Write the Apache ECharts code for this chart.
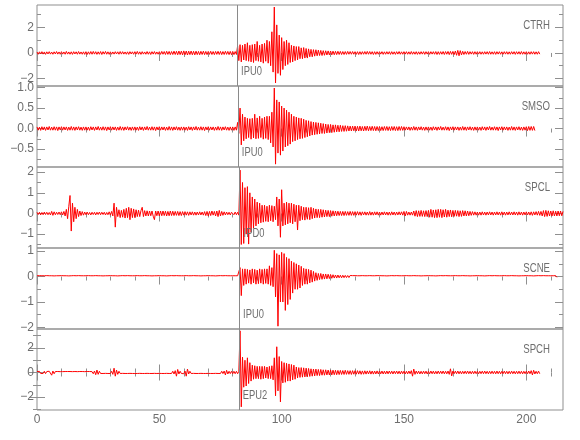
<!DOCTYPE html>
<html><head><meta charset="utf-8">
<script src="https://cdn.jsdelivr.net/npm/echarts@6/dist/echarts.min.js"></script>
<style>html,body{margin:0;padding:0;background:#fff}#c{width:580px;height:440px}</style>
</head><body><div id="c"></div>
<script>
// ---- data ----
// each trace: "Pre" = 0..79.5 s, "Burst" = 80..129.5 s, "Post" = 130 s..end; all at 0.5 s
const stations = ['CTRH', 'SMSO', 'SPCL', 'SCNE', 'SPCH'];
const pickNames = ['IPU0', 'IPU0', 'IPD0', 'IPU0', 'EPU2'];
const pickTimes = [81.8, 82.1, 82.8, 82.6, 82.5];
const xMajorTicks = [0, 50, 100, 150, 200];
const xMinorTicks = [10, 20, 30, 40, 60, 70, 80, 90, 110, 120, 130, 140, 160, 170, 180, 190, 210];
const yMajorTicks = [[-2, 0, 2], [-0.5, 0, 0.5, 1], [-1, 0, 1, 2], [-2, -1, 0, 1], [-2, 0, 2]];
const yMinorTicks = [[-2, -1, 0, 1, 2, 3], [-0.75, -0.5, -0.25, 0, 0.25, 0.5, 0.75, 1], [-1.5, -1, -0.5, 0, 0.5, 1, 1.5, 2], [-2, -1.5, -1, -0.5, 0, 0.5, 1], [-3, -2, -1, 0, 1, 2, 3]];

const ctrhPre = [
0.08,-0.1,0.09,-0.07,0.1,-0.09,0.08,-0.11,0.09,-0.08,0.1,-0.09,0.07,-0.1,0.09,-0.08,0.11,-0.09,0.08,-0.1,
0.1,-0.09,0.08,-0.1,0.12,-0.09,0.08,-0.1,0.09,-0.11,0.1,-0.08,0.09,-0.1,0.11,-0.09,0.08,-0.1,0.09,-0.11,
0.1,-0.12,0.09,-0.1,0.11,-0.1,0.12,-0.09,0.1,-0.11,0.09,-0.1,0.11,-0.12,0.1,-0.09,0.12,-0.1,0.09,-0.11,
0.09,-0.1,0.08,-0.09,0.1,-0.08,0.09,-0.1,0.11,-0.09,0.1,-0.09,0.08,-0.1,0.09,-0.11,0.1,-0.08,0.09,-0.1,
0.1,-0.09,0.12,-0.1,0.09,-0.11,0.1,-0.09,0.08,-0.1,0.11,-0.1,0.09,-0.12,0.1,-0.09,0.11,-0.1,0.08,-0.1,
0.1,-0.11,0.12,-0.1,0.11,-0.12,0.13,-0.11,0.12,-0.13,0.11,-0.12,0.14,-0.12,0.13,-0.14,0.15,-0.13,0.14,-0.15,
0.16,-0.14,0.15,-0.16,0.14,-0.13,0.15,-0.14,0.13,-0.15,0.14,-0.13,0.12,-0.14,0.13,-0.12,0.14,-0.13,0.12,-0.13,
0.12,-0.11,0.13,-0.12,0.11,-0.13,0.12,-0.11,0.13,-0.12,0.12,-0.13,0.11,-0.12,0.13,-0.11,0.12,-0.13,0.12,-0.14];
const ctrhBurst = [
0.12,-0.13,0.11,-0.12, 0.55,-0.6,0.65,-0.7, 0.6,-0.55,0.7,-0.6, 0.8,-0.65,0.6,-0.7,
0.65,-0.75,0.7,-0.6, 0.9,-0.65,0.6,-0.7, 0.7,-0.8,0.75,-0.65, 1.0,-0.8,0.9,-1.0,
1.66,-1.5,3.6,-2.35, 2.2,-1.6,1.4,-1.75, 1.2,-1.3,0.9,-1.0, 1.0,-0.9,0.8,-0.75,
0.6,-0.7,0.55,-0.6, 0.5,-0.55,0.5,-0.45, 0.4,-0.45,0.42,-0.4, 0.35,-0.4,0.32,-0.3,
0.28,-0.3,0.26,-0.25, 0.25,-0.22,0.22,-0.2, 0.2,-0.2,0.18,-0.18, 0.17,-0.16,0.16,-0.15,
0.15,-0.15,0.14,-0.14, 0.13,-0.13,0.13,-0.12, 0.12,-0.12,0.11,-0.12, 0.11,-0.11,0.12,-0.1,
0.11,-0.1,0.11,-0.1];
const ctrhPost = [
0.1,-0.11,0.1,-0.12,0.1,-0.11,0.1,-0.1,0.11,-0.1,0.12,-0.1,0.11,-0.1,0.1,-0.12,0.1,-0.11,0.1,-0.1,
0.1,-0.09,0.1,-0.11,0.09,-0.1,0.1,-0.09,0.1,-0.11,0.1,-0.1,0.09,-0.11,0.1,-0.09,0.11,-0.1,0.09,-0.1,
0.1,-0.09,0.1,-0.1,0.09,-0.1,0.11,-0.1,0.09,-0.1,0.1,-0.11,0.09,-0.1,0.1,-0.09,0.1,-0.11,0.1,-0.09,
0.1,-0.11,0.1,-0.09,0.1,-0.1,0.11,-0.12,0.1,-0.11,0.1,-0.1,0.11,-0.12,0.11,-0.1,0.12,-0.13,0.12,-0.11,
0.12,-0.13,0.15,-0.18,0.2,-0.22,0.18,-0.15,0.13,-0.12,0.11,-0.1,0.12,-0.11,0.1,-0.09,0.1,-0.11,0.1,-0.1,
0.1,-0.09,0.1,-0.1,0.09,-0.1,0.1,-0.09,0.1,-0.1,0.11,-0.1,0.09,-0.1,0.1,-0.11,0.1,-0.09,0.1,-0.1,
0.09,-0.1,0.1,-0.09,0.1,-0.1,0.09,-0.1,0.1,-0.09,0.1,-0.11,0.1,-0.09,0.1,-0.1,0.11,-0.1,0.09,-0.1,
0.1,-0.1,0.09,-0.1,0.1,-0.09,0.1,-0.1,0.09,-0.1,0.1,-0.09];

const smsoPre = [
0.04,-0.04,0.035,-0.045,0.045,-0.035,0.04,-0.045,0.04,-0.035,0.05,-0.04,0.035,-0.04,0.045,-0.04,0.04,-0.05,0.04,-0.035,
0.045,-0.04,0.04,-0.035,0.04,-0.045,0.035,-0.04,0.05,-0.04,0.04,-0.045,0.04,-0.035,0.045,-0.04,0.035,-0.045,0.04,-0.04,
0.04,-0.04,0.035,-0.045,0.045,-0.035,0.04,-0.045,0.04,-0.035,0.05,-0.04,0.035,-0.04,0.045,-0.04,0.04,-0.05,0.04,-0.035,
0.045,-0.04,0.04,-0.035,0.04,-0.045,0.035,-0.04,0.05,-0.04,0.04,-0.045,0.04,-0.035,0.045,-0.04,0.035,-0.045,0.04,-0.04,
0.04,-0.04,0.035,-0.045,0.045,-0.035,0.04,-0.045,0.04,-0.035,0.05,-0.04,0.035,-0.04,0.045,-0.04,0.04,-0.05,0.04,-0.035,
0.045,-0.04,0.04,-0.035,0.04,-0.045,0.035,-0.04,0.05,-0.04,0.04,-0.045,0.04,-0.035,0.045,-0.04,0.035,-0.045,0.04,-0.04,
0.04,-0.04,0.035,-0.045,0.045,-0.035,0.04,-0.045,0.04,-0.035,0.05,-0.04,0.035,-0.04,0.045,-0.04,0.04,-0.05,0.04,-0.035,
0.045,-0.04,0.04,-0.035,0.04,-0.045,0.035,-0.04,0.05,-0.04,0.04,-0.045,0.04,-0.035,0.045,-0.04,0.035,-0.045,0.04,-0.04];
const smsoBurst = [
0.04,-0.045,0.04,-0.04, 0.15,-0.12,0.5,-0.4, 0.35,-0.3,0.28,-0.25, 0.25,-0.22,0.24,-0.26,
0.25,-0.23,0.35,-0.25, 0.26,-0.24,0.3,-0.22, 0.25,-0.26,0.28,-0.24, 0.3,-0.27,0.3,-0.35,
0.4,-0.45,0.99,-0.87, 0.7,-0.6,0.65,-0.65, 0.55,-0.55,0.5,-0.45, 0.45,-0.42,0.4,-0.38,
0.35,-0.32,0.3,-0.3, 0.28,-0.27,0.26,-0.25, 0.25,-0.24,0.23,-0.22, 0.2,-0.2,0.19,-0.18,
0.17,-0.16,0.16,-0.15, 0.15,-0.14,0.14,-0.13, 0.13,-0.12,0.12,-0.12, 0.11,-0.11,0.1,-0.1,
0.1,-0.1,0.09,-0.09, 0.09,-0.08,0.08,-0.08, 0.08,-0.07,0.07,-0.07, 0.07,-0.065,0.065,-0.06,
0.06,-0.06,0.06,-0.055];
const smsoPost = [
0.06,-0.06,0.055,-0.06,0.06,-0.055,0.05,-0.06,0.055,-0.05,0.06,-0.055,0.05,-0.05,0.055,-0.05,0.05,-0.055,0.05,-0.05,
0.05,-0.05,0.045,-0.05,0.05,-0.045,0.05,-0.05,0.045,-0.05,0.05,-0.045,0.05,-0.05,0.045,-0.05,0.05,-0.045,0.05,-0.045,
0.045,-0.04,0.04,-0.035,0.04,-0.045,0.035,-0.04,0.05,-0.04,0.04,-0.045,0.04,-0.035,0.045,-0.04,0.035,-0.045,0.04,-0.04,
0.04,-0.04,0.035,-0.045,0.045,-0.035,0.04,-0.045,0.04,-0.035,0.05,-0.04,0.035,-0.04,0.045,-0.04,0.04,-0.05,0.04,-0.035,
0.045,-0.04,0.04,-0.035,0.04,-0.045,0.035,-0.04,0.05,-0.04,0.04,-0.045,0.04,-0.035,0.045,-0.04,0.035,-0.045,0.04,-0.04,
0.04,-0.04,0.035,-0.045,0.045,-0.035,0.04,-0.045,0.04,-0.035,0.05,-0.04,0.035,-0.04,0.045,-0.04,0.04,-0.05,0.04,-0.035,
0.045,-0.04,0.04,-0.035,0.04,-0.045,0.035,-0.04,0.05,-0.04,0.04,-0.045,0.04,-0.035,0.045,-0.04,0.035,-0.045,0.04,-0.04,
0.045,-0.05,0.05,-0.045,0.05,-0.045,0.05,-0.05];

const spclPre = [
0.06,-0.05,0.06,-0.07,0.05,-0.06,0.07,-0.05,0.06,-0.06,0.05,-0.07,0.1,-0.09,0.08,-0.06,0.06,-0.05,0.07,-0.06,
0.08,-0.07,0.1,-0.12,0.2,-0.25,0.35,0.87,-0.85,0.5,-0.4,0.3,-0.25,0.2,-0.15,0.12,-0.1,0.09,-0.08,0.07,
-0.06,0.07,-0.06,0.05,-0.07,0.06,-0.05,0.06,-0.07,0.06,-0.05,0.07,-0.06,0.06,-0.05,0.06,-0.07,0.05,-0.06,0.08,
-0.08,0.1,-0.12,0.5,-0.66,0.3,-0.15,0.18,-0.2,0.15,-0.18,0.2,-0.22,0.25,-0.2,0.3,-0.3,0.25,-0.2,0.22,
-0.2,0.18,-0.15,0.16,-0.15,0.14,0.3,-0.15,0.14,-0.12,0.13,-0.12,0.12,-0.11,0.12,-0.13,-0.3,0.12,-0.11,0.12,
-0.12,0.12,-0.11,0.12,-0.1,0.11,-0.12,0.1,-0.11,0.12,-0.1,0.11,-0.1,0.1,-0.09,0.1,-0.1,0.09,-0.1,0.09,
-0.08,0.09,-0.08,0.08,-0.09,0.08,-0.07,0.08,-0.08,0.07,-0.08,0.07,-0.07,0.08,-0.07,0.07,-0.08,0.09,-0.1,0.1,
-0.12,0.1,-0.1,0.12,-0.08,0.1,-0.12,0.12,-0.15,0.15,-0.12,0.1,-0.09,0.08,-0.07,0.07,-0.06,0.06,-0.07,0.06];
const spclBurst = [
0.06,-0.06,0.07,-0.06, 0.06,-0.08,2.1,-1.5, 1.5,-1.45,1.25,-1.0, 1.3,-1.48,1.0,-0.9,
0.8,-0.7,0.7,-0.6, 0.55,-0.5,0.5,-0.45, 0.4,-0.42,0.4,-0.38, 0.35,-0.4,0.4,-0.35,
0.38,-0.4,0.35,-0.3, 0.8,-0.6,0.7,-1.15, 1.15,-0.6,0.5,-0.55, 0.55,-0.5,0.5,-0.45,
0.5,-0.5,0.45,-0.4, 0.4,-0.8,0.4,-0.35, 0.35,-0.3,0.3,-0.32, 0.3,-0.28,0.28,-0.3,
0.3,-0.25,0.25,-0.22, 0.22,-0.2,0.2,-0.2, 0.2,-0.18,0.18,-0.17, 0.16,-0.15,0.15,-0.15,
0.14,-0.13,0.13,-0.12, 0.12,-0.11,0.11,-0.1, 0.1,-0.1,0.1,-0.1, 0.1,-0.09,0.09,-0.09,
0.1,-0.09,0.09,-0.09];
const spclPost = [
0.09,-0.08,0.09,-0.08,0.08,-0.09,0.08,-0.07,0.08,-0.08,0.07,-0.08,0.09,-0.08,0.07,-0.08,0.08,-0.07,0.08,-0.08,
0.07,-0.08,0.07,-0.07,0.08,-0.07,0.07,-0.08,0.07,-0.08,0.08,-0.07,0.07,-0.08,0.07,-0.07,0.08,-0.07,0.08,-0.08,
0.1,-0.12,0.1,-0.08,0.07,-0.08,0.07,-0.08,0.12,-0.13,0.14,-0.15,0.13,-0.14,0.15,-0.14,0.13,-0.15,0.14,-0.15,
0.15,-0.18,0.2,-0.18,0.17,-0.2,0.18,-0.2,0.2,-0.18,0.2,-0.2,0.18,-0.17,0.2,-0.18,0.16,-0.15,0.17,-0.16,
0.15,-0.14,0.15,-0.13,0.14,-0.15,0.13,-0.14,0.14,-0.12,0.13,-0.12,0.12,-0.11,0.1,-0.09,0.09,-0.08,0.08,-0.08,
0.07,-0.08,0.07,-0.08,0.08,-0.07,0.07,-0.08,0.07,-0.07,0.08,-0.07,0.07,-0.08,0.07,-0.07,0.08,-0.07,0.07,-0.08,
0.08,-0.07,0.07,-0.08,0.07,-0.07,0.08,-0.07,0.07,-0.07,0.08,-0.07,0.07,-0.08,0.08,-0.07,0.07,-0.08,0.07,-0.07,
0.08,-0.07,0.07,-0.08,0.08,-0.09,0.08,-0.07,0.09,-0.08,0.1,-0.09,0.1,-0.12,0.14,-0.15,0.15,-0.14,0.13,-0.12,
0.12,-0.12,0.13,-0.12,0.11,-0.12,0.12,-0.11,0.12,-0.11,0.1];

const scnePre = [
0.03,-0.03,0.035,-0.03,0.03,-0.035,0.03,-0.03,0.035,-0.03,0.03,-0.035,0.03,-0.03,0.025,-0.03,0.03,-0.035,0.03,-0.03,
0.035,-0.03,0.03,-0.035,0.03,-0.03,0.025,-0.03,0.03,-0.035,0.035,-0.03,0.03,-0.03,0.035,-0.03,0.03,-0.025,0.03,-0.035,
0.03,-0.03,0.035,-0.03,0.03,-0.035,0.03,-0.03,0.035,-0.03,0.03,-0.035,0.03,-0.03,0.025,-0.03,0.03,-0.035,0.03,-0.03,
0.035,-0.03,0.03,-0.035,0.03,-0.03,0.025,-0.03,0.03,-0.035,0.035,-0.03,0.03,-0.03,0.035,-0.03,0.03,-0.025,0.03,-0.035,
0.03,-0.03,0.035,-0.03,0.03,-0.035,0.03,-0.03,0.035,-0.03,0.03,-0.035,0.03,-0.03,0.025,-0.03,0.03,-0.035,0.03,-0.03,
0.035,-0.03,0.03,-0.035,0.03,-0.03,0.025,-0.03,0.03,-0.035,0.035,-0.03,0.03,-0.03,0.035,-0.03,0.03,-0.025,0.03,-0.035,
0.03,-0.03,0.035,-0.03,0.03,-0.035,0.03,-0.03,0.035,-0.03,0.03,-0.035,0.03,-0.03,0.025,-0.03,0.03,-0.035,0.03,-0.03,
0.035,-0.03,0.03,-0.035,0.03,-0.03,0.025,-0.03,0.03,-0.035,0.035,-0.03,0.03,-0.03,0.035,-0.03,0.03,-0.025,0.03,-0.035];
const scneBurst = [
0.03,-0.03,0.03,-0.035, 0.03,-0.03,0.35,-0.75, 0.3,-0.35,0.3,-0.3, 0.28,-0.26,0.26,-0.3,
0.3,-0.25,0.28,-0.3, 0.25,-0.28,0.3,-0.26, 0.28,-0.3,0.3,-0.27, 0.3,-0.3,0.42,-0.35,
0.35,-0.4,1.03,-0.8, 0.9,-1.95,0.85,-1.0, 0.95,-1.0,0.9,-1.33, 0.75,-1.1,0.7,-0.9,
0.6,-0.65,0.55,-0.5, 0.5,-0.5,0.45,-0.45, 0.4,-0.35,0.32,-0.3, 0.3,-0.3,0.28,-0.25,
0.25,-0.22,0.2,-0.18, 0.15,-0.15,0.12,-0.12, 0.12,-0.11,0.1,-0.1, 0.1,-0.09,0.09,-0.08,
0.08,-0.07,0.07,-0.06, 0.06,-0.06,0.06,-0.05, 0.05,-0.05,0.05,-0.045, 0.045,-0.04,0.04,-0.04,
0.04,-0.035,0.035,-0.035];
const scnePost = [
0.035,-0.035,0.03,-0.035,0.03,-0.03,0.035,-0.03,0.03,-0.035,0.03,-0.03,0.035,-0.03,0.03,-0.035,0.03,-0.03,0.035,-0.03,
0.035,-0.03,0.03,-0.035,0.03,-0.03,0.025,-0.03,0.03,-0.035,0.035,-0.03,0.03,-0.03,0.035,-0.03,0.03,-0.025,0.03,-0.035,
0.03,-0.03,0.035,-0.03,0.03,-0.035,0.03,-0.03,0.035,-0.03,0.03,-0.035,0.03,-0.03,0.025,-0.03,0.03,-0.035,0.03,-0.03,
0.035,-0.03,0.03,-0.035,0.03,-0.03,0.025,-0.03,0.03,-0.035,0.035,-0.03,0.03,-0.03,0.035,-0.03,0.03,-0.025,0.03,-0.035,
0.03,-0.03,0.035,-0.03,0.03,-0.035,0.03,-0.03,0.035,-0.03,0.03,-0.035,0.03,-0.03,0.025,-0.03,0.03,-0.035,0.03,-0.03,
0.035,-0.03,0.03,-0.035,0.03,-0.03,0.025,-0.03,0.03,-0.035,0.035,-0.03,0.03,-0.03,0.035,-0.03,0.03,-0.025,0.03,-0.035,
0.03,-0.03,0.035,-0.03,0.03,-0.035,0.03,-0.03,0.035,-0.03,0.03,-0.035,0.03,-0.03,0.025,-0.03,0.03,-0.035,0.03,-0.03,
0.035,-0.03,0.03,-0.035,0.03,-0.03,0.025,-0.03,0.03,-0.035,0.035,-0.03,0.03,-0.03,0.035,-0.03,0.03,-0.025,0.03,-0.035,
0.03,-0.035,0.03,-0.03,0.035,-0.03];

const spchPre = [
0.08,-0.07,0.09,-0.08,0.07,-0.08,0.1,-0.09,0.08,-0.07,0.1,0.25,-0.22,0.12,-0.1,0.08,-0.07,0.08,-0.08,0.07,
-0.08,0.07,-0.08,0.08,-0.07,0.08,-0.07,0.08,-0.08,0.07,-0.07,0.08,-0.08,0.07,-0.08,0.08,-0.07,0.08,-0.08,0.07,
-0.08,0.08,-0.07,0.08,-0.08,0.07,-0.1,0.12,-0.18,0.2,-0.15,0.1,-0.08,0.07,-0.08,0.08,-0.07,0.08,-0.08,0.07,
-0.08,0.1,-0.15,0.35,-0.3,0.2,-0.15,0.1,-0.08,0.08,-0.07,0.08,-0.08,0.07,-0.08,0.08,-0.07,0.08,-0.08,0.07,
-0.08,0.07,-0.08,0.08,-0.07,0.08,-0.08,0.07,-0.08,0.08,-0.07,0.08,-0.08,0.07,-0.08,0.08,-0.07,0.08,-0.08,0.07,
-0.07,0.08,-0.08,0.07,-0.08,0.08,-0.07,0.08,-0.08,0.07,-0.08,0.1,-0.12,0.15,-0.3,0.25,-0.12,0.1,-0.08,0.08,
-0.1,0.12,-0.3,0.28,-0.12,0.1,-0.08,0.08,-0.07,0.08,-0.08,0.07,-0.08,0.08,-0.07,0.08,-0.08,0.07,-0.08,0.08,
-0.07,0.08,-0.08,0.07,-0.08,0.08,-0.07,0.08,-0.08,0.07,-0.08,0.1,-0.09,0.12,-0.2,0.18,-0.12,0.1,-0.09,0.1];
const spchBurst = [
-0.1,0.1,-0.1,0.1, -0.1,0.1,3.4,-2.8, 1.25,-1.2,1.0,-1.1, 1.2,-0.9,0.8,-0.7,
0.6,-0.55,0.55,-0.5, 0.5,-0.5,0.5,-0.55, 0.5,-0.5,0.5,-0.45, 0.45,-0.5,0.5,-0.5,
0.55,-0.6,1.2,-1.9, 2.1,-1.5,1.3,-2.4, 0.9,-0.85,0.8,-0.8, 0.75,-0.7,0.7,-0.7,
0.65,-0.6,0.6,-0.55, 0.45,-0.45,0.4,-0.4, 0.4,-0.38,0.38,-0.36, 0.35,-0.35,0.33,-0.32,
0.3,-0.3,0.28,-0.28, 0.28,-0.25,0.25,-0.25, 0.25,-0.22,0.22,-0.22, 0.22,-0.2,0.2,-0.2,
0.2,-0.2,0.19,-0.18, 0.18,-0.18,0.17,-0.17, 0.17,-0.16,0.16,-0.16, 0.18,-0.15,0.15,-0.15,
0.15,-0.16,0.15,-0.14];
const spchPost = [
0.15,-0.14,0.15,-0.13,0.14,-0.15,0.13,-0.14,0.14,-0.13,0.13,-0.12,0.14,-0.13,0.12,-0.13,0.12,-0.12,0.13,-0.12,
0.12,-0.11,0.12,-0.12,0.11,-0.12,0.12,-0.11,0.12,-0.1,0.11,-0.12,0.11,-0.1,0.12,-0.11,0.11,-0.12,0.11,-0.1,
0.11,-0.12,0.1,-0.11,0.12,-0.1,0.15,-0.3,0.28,-0.15,0.12,-0.1,0.11,-0.12,0.1,-0.11,0.11,-0.1,0.11,-0.12,
0.1,-0.11,0.12,-0.1,0.11,-0.12,0.1,-0.11,0.12,-0.1,0.11,-0.1,0.12,-0.11,0.1,-0.11,0.12,-0.15,0.3,-0.28,
0.12,-0.1,0.11,-0.1,0.12,-0.11,0.1,-0.11,0.1,-0.1,0.11,-0.1,0.12,-0.1,0.1,-0.11,0.1,-0.1,0.11,-0.1,
0.1,-0.11,0.1,-0.1,0.11,-0.1,0.12,-0.1,0.1,-0.11,0.1,-0.1,0.11,-0.1,0.1,-0.11,0.12,-0.1,0.1,-0.11,
0.1,-0.1,0.11,-0.1,0.1,-0.11,0.1,-0.1,0.11,-0.1,0.1,-0.11,0.1,-0.1,0.11,-0.1,0.1,-0.11,0.1,-0.1,
0.11,-0.1,0.12,-0.1,0.15,-0.2,0.18,-0.12,0.1,-0.1,0.11,-0.1];

const tracesPre = [ctrhPre, smsoPre, spclPre, scnePre, spchPre];
const tracesBurst = [ctrhBurst, smsoBurst, spclBurst, scneBurst, spchBurst];
const tracesPost = [ctrhPost, smsoPost, spclPost, scnePost, spchPost];
const burstStart = 80, postStart = 130, step = 0.5;

function buildTrace(i) {
  const d = [];
  tracesPre[i].forEach((v, k) => d.push([k * step, v]));
  tracesBurst[i].forEach((v, k) => d.push([burstStart + k * step, v]));
  tracesPost[i].forEach((v, k) => d.push([postStart + k * step, v]));
  return d;
}

// ---- layout ----
const gridTops = [5, 86, 167, 248, 329];
const gridH = 81;
const yRange = [[-2.59, 3.76], [-0.94, 1.04], [-1.67, 2.25], [-2.06, 1.12], [-3.06, 3.55]];
const frame = '#8f8f8f';
const txt = '#6e6e6e';
const FONT = "'Liberation Sans', Arial, sans-serif";

const grids = [], xAxes = [], yAxes = [], series = [];
const fmtY = (i) => (v) => {
  const s = i === 1 ? Math.abs(v).toFixed(1) : String(Math.abs(v));
  return (v < 0 ? '\u2212' : '') + s;
};
for (let i = 0; i < 5; i++) {
  grids.push({left: 37, right: 17, top: gridTops[i], height: gridH, show: true,
    borderColor: frame, borderWidth: 1, backgroundColor: 'transparent'});
  const xBase = {type: 'value', gridIndex: i, min: 0, max: 215, position: 'top',
    axisLine: {show: false}, splitLine: {show: false}, axisLabel: {show: false}};
  xAxes.push(Object.assign({}, xBase, {axisTick: {show: true, inside: true, length: 8, customValues: xMajorTicks, lineStyle: {color: frame}}}));
  xAxes.push(Object.assign({}, xBase, {axisTick: {show: true, inside: true, length: 4, customValues: xMinorTicks, lineStyle: {color: frame}}}));
  const yBase = {type: 'value', gridIndex: i, min: yRange[i][0], max: yRange[i][1],
    axisLine: {show: false}, splitLine: {show: false}};
  yAxes.push(Object.assign({}, yBase, {position: 'left',
    axisTick: {show: true, inside: true, length: 8, customValues: yMajorTicks[i], lineStyle: {color: frame}},
    axisLabel: {show: true, customValues: yMajorTicks[i], margin: 3, color: txt, fontSize: 12, fontFamily: FONT, formatter: fmtY(i)}}));
  yAxes.push(Object.assign({}, yBase, {position: 'left', axisLabel: {show: false},
    axisTick: {show: true, inside: true, length: 4, customValues: yMinorTicks[i], lineStyle: {color: frame}}}));
  yAxes.push(Object.assign({}, yBase, {position: 'right', axisLabel: {show: false},
    axisTick: {show: true, inside: true, length: 8, customValues: yMajorTicks[i], lineStyle: {color: frame}}}));
  yAxes.push(Object.assign({}, yBase, {position: 'right', axisLabel: {show: false},
    axisTick: {show: true, inside: true, length: 4, customValues: yMinorTicks[i], lineStyle: {color: frame}}}));

  series.push({type: 'line', xAxisIndex: 2 * i, yAxisIndex: 4 * i, data: [], z: 2,
    markLine: {silent: true, symbol: ['none', 'none'], label: {show: false},
      lineStyle: {color: '#8a8a8a', width: 1, type: 'solid'}, animation: false,
      data: [{xAxis: pickTimes[i]}]}});
  series.push({type: 'line', xAxisIndex: 2 * i, yAxisIndex: 4 * i, z: 3,
    data: buildTrace(i),
    showSymbol: false, symbol: 'none', sampling: 'none', clip: true,
    lineStyle: {color: '#ff0000', width: 1}, animation: false});
}
xAxes.push({type: 'value', gridIndex: 4, min: 0, max: 215, position: 'bottom',
  axisLine: {show: false}, splitLine: {show: false},
  axisTick: {show: true, inside: true, length: 8, customValues: xMajorTicks, lineStyle: {color: frame}},
  axisLabel: {show: true, customValues: xMajorTicks, margin: 4, color: txt, fontSize: 12, fontFamily: FONT}});
xAxes.push({type: 'value', gridIndex: 4, min: 0, max: 215, position: 'bottom',
  axisLine: {show: false}, splitLine: {show: false}, axisLabel: {show: false},
  axisTick: {show: true, inside: true, length: 4, customValues: xMinorTicks, lineStyle: {color: frame}}});

const chart = echarts.init(document.getElementById('c'), null, {renderer: 'canvas'});
chart.setOption({animation: false, backgroundColor: '#fff', grid: grids, xAxis: xAxes, yAxis: yAxes, series: series});

const graphics = [];
for (let i = 0; i < 5; i++) {
  graphics.push({type: 'text', x: 550, y: gridTops[i] + 20, scaleX: 0.74, z: 10,
    style: {text: stations[i], fill: txt, font: '13px ' + FONT, textAlign: 'right', textVerticalAlign: 'middle'}});
  const px = chart.convertToPixel({xAxisIndex: 2 * i}, pickTimes[i]);
  graphics.push({type: 'text', x: px + 4, y: gridTops[i] + gridH - 14.5, scaleX: 0.72, z: 10,
    style: {text: pickNames[i], fill: txt, font: '13px ' + FONT, textAlign: 'left', textVerticalAlign: 'middle'}});
}
chart.setOption({graphic: graphics});
</script></body></html>
